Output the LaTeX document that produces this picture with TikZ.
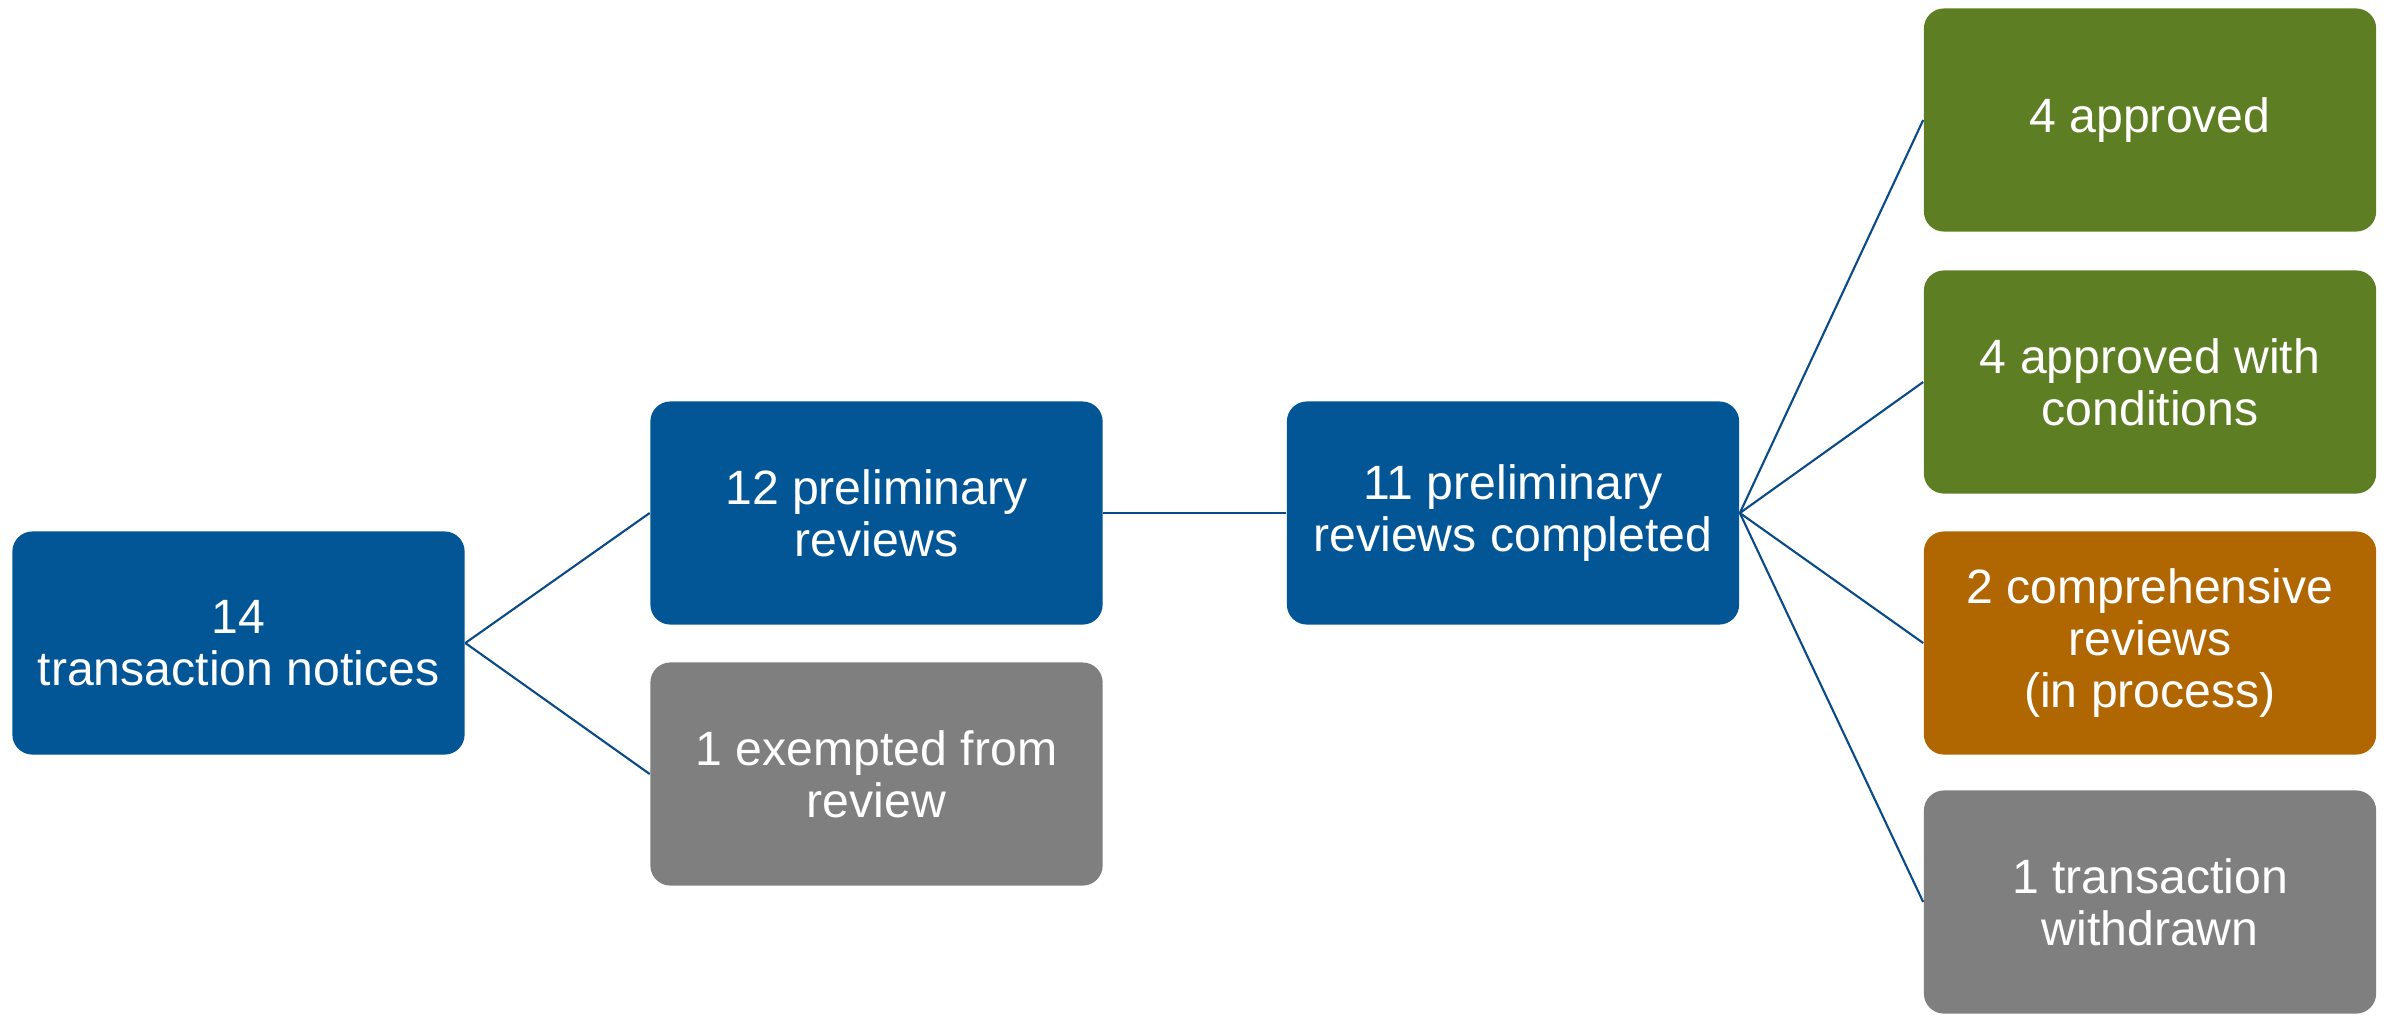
\documentclass[tikz,border=0pt]{standalone}
\usepackage{fontspec}
\setmainfont{Liberation Sans}
\definecolor{boxblue}{RGB}{2,86,150}
\definecolor{boxgreen}{RGB}{94,126,36}
\definecolor{boxorange}{RGB}{176,103,2}
\definecolor{boxgray}{RGB}{127,127,127}
\definecolor{linkblue}{RGB}{10,74,134}
\begin{document}
\begin{tikzpicture}[x=0.01cm,y=-0.01cm,
  card/.style={rectangle, rounded corners=0.2cm, minimum width=4.52cm, minimum height=2.23cm,
    inner sep=0pt, align=center, text=white, font=\fontsize{13.7}{14.9}\selectfont},
  link/.style={draw=linkblue, line width=0.6pt}]
\useasboundingbox (0,0) rectangle (2389,1014);
\node[card, fill=boxblue] (a) at (238.5,643) {14\\transaction notices};
\node[card, fill=boxblue] (b) at (876.5,513) {12 preliminary\\reviews};
\node[card, fill=boxgray] (c) at (876.5,774) {1 exempted from\\review};
\node[card, fill=boxblue] (d) at (1513,513) {11 preliminary\\reviews completed};
\node[card, fill=boxgreen] (e) at (2150,120) {4 approved};
\node[card, fill=boxgreen] (f) at (2150,382) {4 approved with\\conditions};
\node[card, fill=boxorange] (g) at (2150,643) {2 comprehensive\\reviews\\(in process)};
\node[card, fill=boxgray] (h) at (2150,902) {1 transaction\\withdrawn};
\draw[link] (a.east) -- (b.west);
\draw[link] (a.east) -- (c.west);
\draw[link] (b.east) -- (d.west);
\draw[link] (d.east) -- (e.west);
\draw[link] (d.east) -- (f.west);
\draw[link] (d.east) -- (g.west);
\draw[link] (d.east) -- (h.west);
\end{tikzpicture}
\end{document}
